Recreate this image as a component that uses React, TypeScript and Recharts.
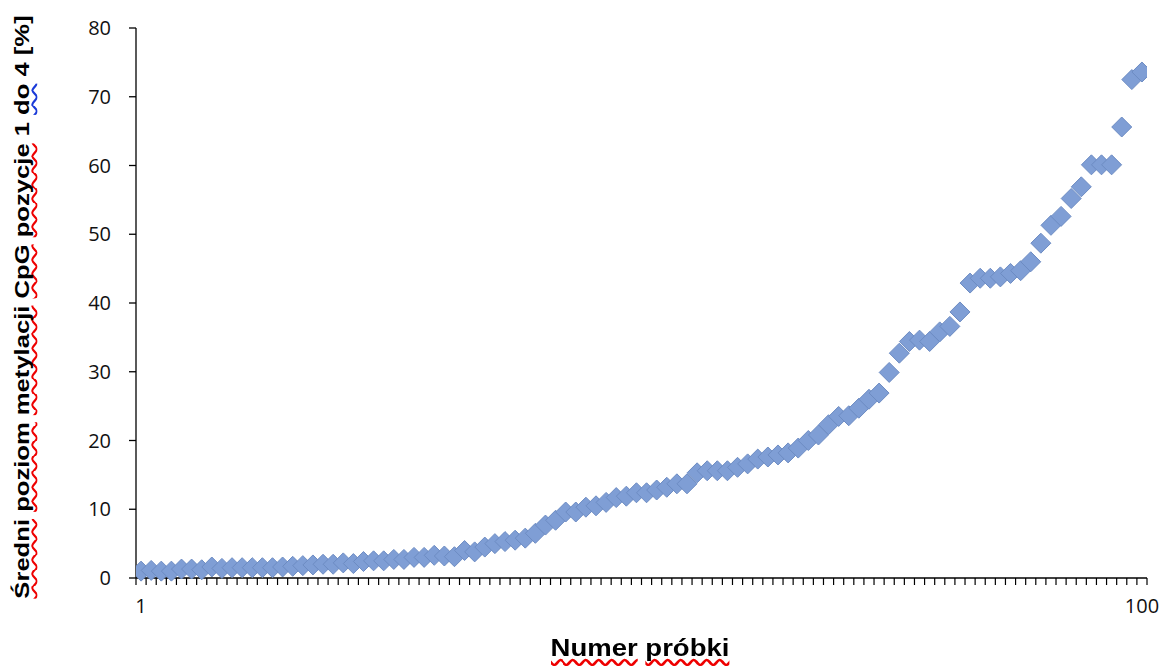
import React from "react";
import { ComposedChart, Scatter, XAxis, YAxis } from "recharts";

// sample numbers 1..100 (category axis in the original)
const sampleNo = [
  1, 2, 3, 4, 5, 6, 7, 8, 9, 10, 11, 12, 13, 14, 15, 16, 17, 18, 19, 20,
  21, 22, 23, 24, 25, 26, 27, 28, 29, 30, 31, 32, 33, 34, 35, 36, 37, 38, 39, 40,
  41, 42, 43, 44, 45, 46, 47, 48, 49, 50, 51, 52, 53, 54, 55, 56, 57, 58, 59, 60,
  61, 62, 63, 64, 65, 66, 67, 68, 69, 70, 71, 72, 73, 74, 75, 76, 77, 78, 79, 80,
  81, 82, 83, 84, 85, 86, 87, 88, 89, 90, 91, 92, 93, 94, 95, 96, 97, 98, 99, 100,
];

// mean CpG methylation, positions 1-4 [%]
const methylation = [
  1.0, 1.1, 1.0, 1.0, 1.3, 1.3, 1.2, 1.6, 1.4, 1.5, 1.5, 1.5, 1.5, 1.5, 1.6, 1.7, 1.8, 1.9, 2.0, 2.0,
  2.2, 2.1, 2.4, 2.5, 2.5, 2.7, 2.7, 3.0, 3.0, 3.3, 3.2, 3.1, 4.0, 3.8, 4.5, 5.0, 5.3, 5.5, 5.8, 6.5,
  7.7, 8.4, 9.6, 9.6, 10.3, 10.5, 11.0, 11.7, 11.9, 12.4, 12.4, 12.8, 13.2, 13.7, 13.7, 15.3, 15.6, 15.6, 15.6, 16.1,
  16.6, 17.3, 17.6, 17.9, 18.2, 18.9, 20.0, 20.8, 22.3, 23.5, 23.6, 24.7, 26.0, 26.9, 29.9, 32.7, 34.4, 34.6, 34.4, 35.8,
  36.6, 38.7, 42.9, 43.6, 43.6, 43.8, 44.3, 44.7, 46.0, 48.7, 51.3, 52.6, 55.2, 56.9, 60.1, 60.1, 60.1, 65.6, 72.5, 73.6,
];

const yTicks = [0, 10, 20, 30, 40, 50, 60, 70, 80];
const xLabelTicks = [1, 100];

const points = sampleNo.map((s, i) => ({ sample: s, value: methylation[i] }));
// tick marks sit between categories, like Excel does
const sampleEdges = [...sampleNo.map((s) => s - 0.5), sampleNo[sampleNo.length - 1] + 0.5];
const xDomain: [number, number] = [sampleEdges[0], sampleEdges[sampleEdges.length - 1]];

const tickFont = { fontFamily: "Open Sans, sans-serif", fontSize: 20, fill: "#111" };
const axisStroke = { stroke: "#000", strokeWidth: 1.3 };

function Diamond(props: any) {
  const { cx, cy } = props;
  if (cx == null || cy == null) return null;
  const r = 10;
  return (
    <path
      d={`M${cx},${cy - r}L${cx + r},${cy}L${cx},${cy + r}L${cx - r},${cy}Z`}
      fill="#7f9ed5"
      stroke="#6d8cc3"
      strokeWidth={1}
    />
  );
}

const wavy = (color: string): React.CSSProperties => ({
  textDecorationLine: "underline",
  textDecorationStyle: "wavy",
  textDecorationColor: color,
  textDecorationSkipInk: "none",
  textUnderlineOffset: 2,
});

const titleFont: React.CSSProperties = {
  position: "absolute",
  fontFamily: "Liberation Sans, Arial, sans-serif",
  fontWeight: 700,
  color: "#000",
  whiteSpace: "nowrap",
  lineHeight: 1.15,
};

export default function App() {
  return (
    <div style={{ position: "fixed", left: 0, top: 0, width: 1164, height: 666, background: "#fff" }}>
      <ComposedChart width={1164} height={666} margin={{ top: 28, right: 17, left: 0, bottom: 38 }}>
        <XAxis
          xAxisId="edges"
          type="number"
          dataKey="sample"
          domain={xDomain}
          allowDataOverflow
          ticks={sampleEdges}
          interval={0}
          tickFormatter={() => ""}
          tickLine={{ stroke: "#000", strokeWidth: 1.2 }}
          tickSize={7}
          axisLine={axisStroke}
          height={1}
        />
        <XAxis
          xAxisId="samples"
          type="number"
          dataKey="sample"
          domain={xDomain}
          allowDataOverflow
          ticks={xLabelTicks}
          interval={0}
          tick={tickFont}
          tickLine={false}
          tickSize={0}
          tickMargin={20}
          axisLine={false}
          height={49}
        />
        <YAxis
          type="number"
          dataKey="value"
          domain={[0, 80]}
          ticks={yTicks}
          interval={0}
          width={136}
          tickSize={7}
          tickMargin={18}
          axisLine={axisStroke}
          tickLine={axisStroke}
          tick={tickFont}
        />
        <Scatter xAxisId="samples" data={points} shape={<Diamond />} isAnimationActive={false} />
      </ComposedChart>

      <div
        style={{
          ...titleFont,
          left: 22,
          top: 307,
          fontSize: 20,
          transform: "translate(-50%, -50%) rotate(-90deg) scaleX(1.28)",
        }}
      >
        <span style={wavy("#e00")}>Średni</span> <span style={wavy("#e00")}>poziom</span>{" "}
        <span style={wavy("#e00")}>metylacji</span> <span style={wavy("#e00")}>CpG</span>{" "}
        <span style={wavy("#e00")}>pozycje</span> 1 <span style={wavy("#1a3ad8")}>do</span> 4 [%]
      </div>

      <div
        style={{
          ...titleFont,
          left: 640,
          top: 649,
          fontSize: 23.5,
          transform: "translate(-50%, -50%) scaleX(1.17)",
        }}
      >
        <span style={wavy("#e00")}>Numer</span> <span style={wavy("#e00")}>próbki</span>
      </div>
    </div>
  );
}
